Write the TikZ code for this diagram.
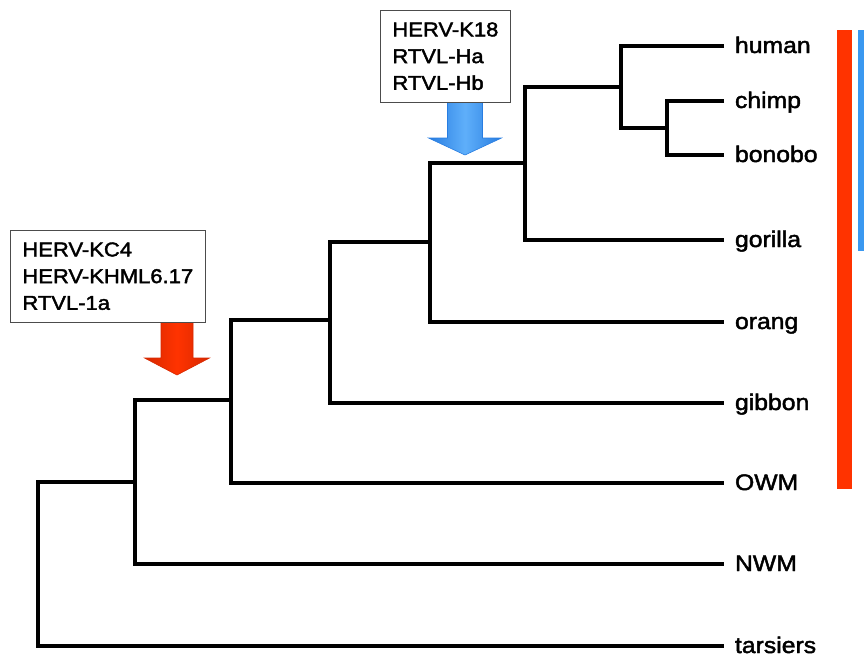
\documentclass[tikz,border=0pt]{standalone}
\usepackage{fontspec}
\setmainfont{Liberation Sans}[FakeStretch=1.1, FakeBold=2]
\usetikzlibrary{calc}
\definecolor{hervred}{RGB}{255,51,0}
\definecolor{hervreddark}{RGB}{215,40,0}
\definecolor{hervblue}{RGB}{58,152,240}
\definecolor{hervbluelight}{RGB}{95,175,250}
\definecolor{hervbluedark}{RGB}{40,125,225}
\begin{document}
\begin{tikzpicture}[x=1pt,y=-1pt,
  branch/.style={line width=3.2pt, line join=miter},
  leaf/.style={anchor=west, inner xsep=11pt, inner ysep=0pt, outer sep=0pt,
    text height=18pt, text depth=4pt,
    font=\fontsize{22.5}{27}\selectfont},
  infobox/.style={draw=black!70, line width=0.8pt, fill=white, align=left,
    inner xsep=12pt, inner ysep=12pt, anchor=north west,
    font=\fontsize{20}{26.7}\selectfont},
  bigarrow/.style={line width=0.6pt, line join=miter}
]
\useasboundingbox (0,0) rectangle (864,657);

% leaves
\node[leaf] (human)    at (724,46)  {human};
\node[leaf] (chimp)    at (724,101) {chimp};
\node[leaf] (bonobo)   at (724,155) {bonobo};
\node[leaf] (gorilla)  at (724,240) {gorilla};
\node[leaf] (orang)    at (724,322) {orang};
\node[leaf] (gibbon)   at (724,403) {gibbon};
\node[leaf] (owm)      at (724,483) {OWM};
\node[leaf] (nwm)      at (724,564) {NWM};
\node[leaf] (tarsiers) at (724,646) {tarsiers};

% internal nodes
\coordinate (ncb)   at (667,128);
\coordinate (nh)    at (621,87);
\coordinate (ng)    at (525,163);
\coordinate (no)    at (430,242);
\coordinate (ngb)   at (330,320);
\coordinate (nowm)  at (231,400);
\coordinate (nnwm)  at (135,482);
\coordinate (nroot) at (38,564);

\draw[branch] (chimp.west) -| (ncb) |- (bonobo.west);
\draw[branch] (human.west) -| (nh) |- (ncb);
\draw[branch] (nh) -| (ng) |- (gorilla.west);
\draw[branch] (ng) -| (no) |- (orang.west);
\draw[branch] (no) -| (ngb) |- (gibbon.west);
\draw[branch] (ngb) -| (nowm) |- (owm.west);
\draw[branch] (nowm) -| (nnwm) |- (nwm.west);
\draw[branch] (nnwm) -| (nroot) |- (tarsiers.west);

% arrows
\coordinate (tipblue) at (465,155);
\coordinate (tipred)  at (177,375);
\draw[bigarrow, draw=hervbluedark, left color=hervbluedark, right color=hervbluedark, middle color=hervbluelight]
  (tipblue) -- ++(-36.5,-17) -- ++(19,0) -- ++(0,-36) -- ++(35,0) -- ++(0,36) -- ++(19,0) -- cycle;
\draw[bigarrow, draw=hervreddark, left color=hervreddark, right color=hervreddark, middle color=hervred]
  (tipred) -- ++(-32.5,-17) -- ++(16.5,0) -- ++(0,-37) -- ++(32,0) -- ++(0,37) -- ++(16.5,0) -- cycle;

% boxes
\node[infobox] (boxred)  at (10,230) {HERV-KC4\\HERV-KHML6.17\\RTVL-1a};
\node[infobox] (boxblue) at (380,10) {HERV-K18\\RTVL-Ha\\RTVL-Hb};

% bars
\fill[hervred]  (837,30) rectangle (852,489);
\fill[hervblue] (858,30) rectangle (866,251);
\end{tikzpicture}
\end{document}
